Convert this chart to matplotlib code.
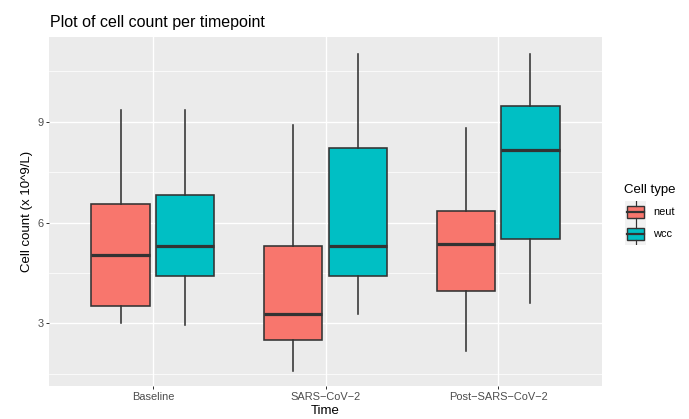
import matplotlib
matplotlib.use("Agg")
import matplotlib.pyplot as plt
from matplotlib.patches import Rectangle

plt.rcParams['font.family'] = ['Liberation Sans', 'DejaVu Sans']

# five-number summaries
timepoints = ['Baseline', 'SARS\u2212CoV\u22122', 'Post\u2212SARS\u2212CoV\u22122']
cell_types = ['neut', 'wcc']
colors = {'neut': '#F8766D', 'wcc': '#00BFC4'}

neut_low = [3.00, 1.60, 2.19]
neut_q1 = [3.53, 2.50, 3.98]
neut_med = [5.04, 3.29, 5.35]
neut_q3 = [6.54, 5.29, 6.35]
neut_high = [9.35, 8.89, 8.81]

wcc_low = [2.95, 3.29, 3.60]
wcc_q1 = [4.42, 4.40, 5.50]
wcc_med = [5.30, 5.30, 8.16]
wcc_q3 = [6.81, 8.21, 9.46]
wcc_high = [9.35, 11.02, 11.02]

series = {
    'neut': (neut_low, neut_q1, neut_med, neut_q3, neut_high),
    'wcc': (wcc_low, wcc_q1, wcc_med, wcc_q3, wcc_high),
}

W, H = 689, 419
fig = plt.figure(figsize=(W / 72, H / 72), dpi=72)
ax = fig.add_axes([49.3 / W, 1 - 386 / H, (601.7 - 49.3) / W, (386 - 37.3) / H])
ax.set_facecolor('#EBEBEB')

edge = '#333333'
dodge = 0.375
for j, ct in enumerate(cell_types):
    lo, q1, med, q3, hi = series[ct]
    stats = []
    for i in range(len(timepoints)):
        stats.append({'whislo': lo[i], 'q1': q1[i], 'med': med[i],
                      'q3': q3[i], 'whishi': hi[i], 'fliers': []})
    pos = [i + 1 + (j - 0.5) * dodge for i in range(len(timepoints))]
    ax.bxp(stats, positions=pos, widths=0.3375, patch_artist=True,
           showcaps=False, showfliers=False,
           boxprops=dict(facecolor=colors[ct], edgecolor=edge, linewidth=1.6),
           whiskerprops=dict(color=edge, linewidth=1.6),
           medianprops=dict(color=edge, linewidth=3.2), zorder=3)

ax.set_xlim(0.4, 3.6)
ax.set_ylim(1.14, 11.51)
ax.set_xticks([1, 2, 3])
ax.set_xticklabels(timepoints)
ax.set_yticks([3, 6, 9])
ax.set_yticks([1.5, 4.5, 7.5, 10.5], minor=True)
ax.grid(which='major', color='white', linewidth=1.4, zorder=0)
ax.grid(which='minor', axis='y', color='white', linewidth=0.7, zorder=0)
ax.set_axisbelow(True)
for s in ax.spines.values():
    s.set_visible(False)
ax.tick_params(which='major', length=3.3, width=1.0, color='#333333',
               labelcolor='#4D4D4D', labelsize=11, pad=2.5)
ax.tick_params(which='minor', length=0)

ax.set_xlabel('Time', fontsize=13.3, labelpad=3)
ax.set_ylabel('Cell count (x 10^9/L)', fontsize=13.3, labelpad=4)
fig.text(50 / W, 1 - 27 / H, 'Plot of cell count per timepoint',
         fontsize=16, ha='left', va='baseline')

# legend drawn by hand, ggplot style
fig.text(624 / W, 1 - 193 / H, 'Cell type', fontsize=13.3, ha='left',
         va='baseline')
key_w, key_h = 21, 22
for k, ct in enumerate(cell_types):
    top = 201 + k * key_h
    kax = fig.add_axes([625 / W, 1 - (top + key_h) / H, key_w / W, key_h / H])
    kax.set_xlim(0, 1)
    kax.set_ylim(0, 1)
    kax.axis('off')
    kax.add_patch(Rectangle((0, 0), 1, 1, facecolor='#F2F2F2',
                            edgecolor='none'))
    kax.plot([0.5, 0.5], [0.0, 0.23], color=edge, lw=1.2)
    kax.plot([0.5, 0.5], [0.77, 1.0], color=edge, lw=1.2)
    kax.add_patch(Rectangle((0.1, 0.23), 0.8, 0.54, facecolor=colors[ct],
                            edgecolor=edge, lw=1.4))
    kax.plot([0.1, 0.9], [0.5, 0.5], color=edge, lw=2.2)
    fig.text(653 / W, 1 - (top + key_h / 2) / H, ct, fontsize=11,
             ha='left', va='center')

fig.savefig('out.png', dpi=72)
